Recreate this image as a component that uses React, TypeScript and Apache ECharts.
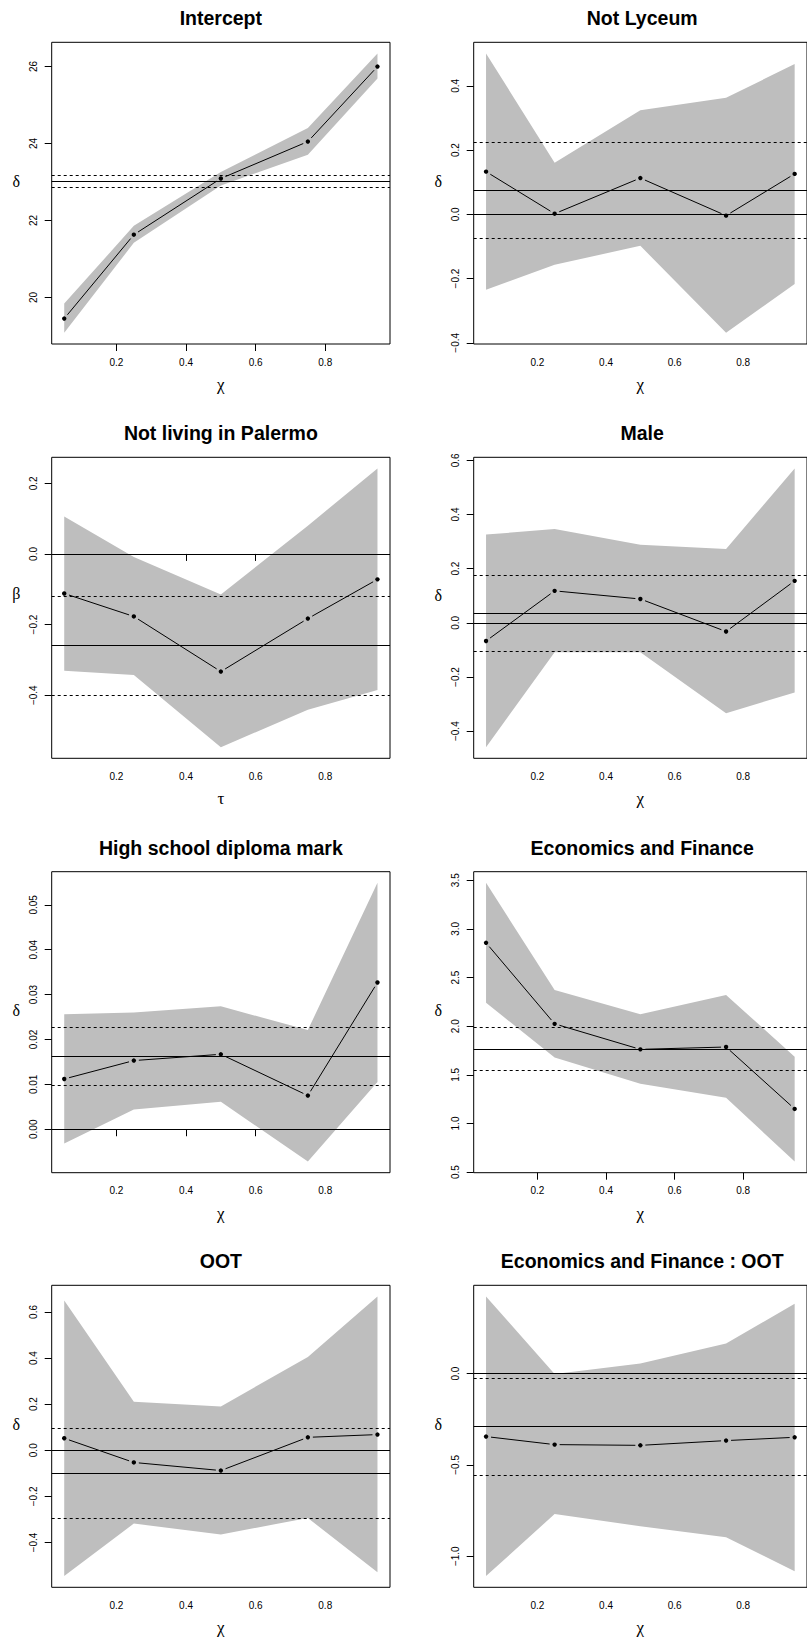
import React, { useEffect, useRef } from "react";
import * as echarts from "echarts";

// ---------- data ----------
const TAU = [0.05, 0.25, 0.5, 0.75, 0.95];
const X_TICKS = [0.2, 0.4, 0.6, 0.8];

const TITLES = [
  "Intercept",
  "Not Lyceum",
  "Not living in Palermo",
  "Male",
  "High school diploma mark",
  "Economics and Finance",
  "OOT",
  "Economics and Finance : OOT",
];
const Y_NAMES = ["δ", "δ", "β", "δ", "δ", "δ", "δ", "δ"];
const X_NAMES = ["χ", "χ", "τ", "χ", "χ", "χ", "χ", "χ"];

const EST_1 = [19.45, 21.63, 23.09, 24.05, 26.0];
const LO_1 = [19.08, 21.42, 22.91, 23.71, 25.69];
const HI_1 = [19.84, 21.86, 23.26, 24.4, 26.34];
const REF_1 = [23.02, 22.87, 23.17];
const YTICKS_1 = [20, 22, 24, 26];

const EST_2 = [0.133, 0.002, 0.113, -0.004, 0.126];
const LO_2 = [-0.235, -0.157, -0.098, -0.369, -0.217];
const HI_2 = [0.501, 0.161, 0.324, 0.363, 0.468];
const REF_2 = [0.075, -0.075, 0.225];
const YTICKS_2 = [-0.4, -0.2, 0, 0.2, 0.4];

const EST_3 = [-0.112, -0.177, -0.333, -0.183, -0.072];
const LO_3 = [-0.331, -0.343, -0.547, -0.441, -0.385];
const HI_3 = [0.106, -0.009, -0.115, 0.08, 0.242];
const REF_3 = [-0.259, -0.401, -0.119];
const YTICKS_3 = [-0.4, -0.2, 0, 0.2];

const EST_4 = [-0.067, 0.118, 0.088, -0.032, 0.155];
const LO_4 = [-0.459, -0.109, -0.109, -0.334, -0.257];
const HI_4 = [0.326, 0.346, 0.288, 0.273, 0.57];
const REF_4 = [0.034, -0.105, 0.176];
const YTICKS_4 = [-0.4, -0.2, 0, 0.2, 0.4, 0.6];

const EST_5 = [0.0112, 0.0153, 0.0167, 0.0075, 0.0327];
const LO_5 = [-0.0032, 0.0044, 0.0061, -0.0072, 0.0105];
const HI_5 = [0.0256, 0.026, 0.0274, 0.0221, 0.0549];
const REF_5 = [0.0163, 0.0097, 0.0228];
const YTICKS_5 = [0, 0.01, 0.02, 0.03, 0.04, 0.05];

const EST_6 = [2.857, 2.024, 1.762, 1.786, 1.15];
const LO_6 = [2.241, 1.677, 1.408, 1.265, 0.609];
const HI_6 = [3.473, 2.371, 2.122, 2.32, 1.687];
const REF_6 = [1.762, 1.548, 1.986];
const YTICKS_6 = [0.5, 1.0, 1.5, 2.0, 2.5, 3.0, 3.5];

const EST_7 = [0.052, -0.053, -0.088, 0.056, 0.068];
const LO_7 = [-0.546, -0.318, -0.365, -0.294, -0.529];
const HI_7 = [0.65, 0.21, 0.19, 0.405, 0.667];
const REF_7 = [-0.101, -0.293, 0.094];
const YTICKS_7 = [-0.4, -0.2, 0, 0.2, 0.4, 0.6];

const EST_8 = [-0.345, -0.389, -0.393, -0.367, -0.349];
const LO_8 = [-1.109, -0.769, -0.836, -0.896, -1.082];
const HI_8 = [0.422, -0.002, 0.055, 0.164, 0.382];
const REF_8 = [-0.291, -0.555, -0.024];
const YTICKS_8 = [-1.0, -0.5, 0];

const ESTS = [EST_1, EST_2, EST_3, EST_4, EST_5, EST_6, EST_7, EST_8];
const LOS = [LO_1, LO_2, LO_3, LO_4, LO_5, LO_6, LO_7, LO_8];
const HIS = [HI_1, HI_2, HI_3, HI_4, HI_5, HI_6, HI_7, HI_8];
const REFS = [REF_1, REF_2, REF_3, REF_4, REF_5, REF_6, REF_7, REF_8];
const YTICKS = [YTICKS_1, YTICKS_2, YTICKS_3, YTICKS_4, YTICKS_5, YTICKS_6, YTICKS_7, YTICKS_8];
const YDEC = [0, 1, 1, 1, 2, 1, 1, 1];

// ---------- layout ----------
const COL_LEFT = [51.7, 473.7];
const COL_WIDTH = [338.3, 337];
const ROW_TOP = [42.3, 457.3, 871.7, 1285.3];
const ROW_HEIGHT = [301.7, 301, 301, 302];

const SANS = "'Liberation Sans', Arial, sans-serif";
const SERIF = "'Liberation Serif', 'DejaVu Serif', serif";

function fmt(v: number, d: number) {
  const s = Math.abs(v) < 1e-12 ? (0).toFixed(d) : v.toFixed(d);
  return s.replace("-", "\u2212");
}

export default function App() {
  const ref = useRef<HTMLDivElement>(null);
  useEffect(() => {
    document.body.style.margin = "0";
    const chart = echarts.init(ref.current!, null, { renderer: "svg" });

    const grids: any[] = [];
    const xAxes: any[] = [];
    const yAxes: any[] = [];
    const series: any[] = [];
    const graphics: any[] = [];

    for (let k = 0; k < 8; k++) {
      const row = Math.floor(k / 2);
      const col = k % 2;
      const left = COL_LEFT[col];
      const width = COL_WIDTH[col];
      const top = ROW_TOP[row];
      const height = ROW_HEIGHT[row];
      const est = ESTS[k];
      const lo = LOS[k];
      const hi = HIS[k];
      const ymin0 = Math.min(...lo);
      const ymax0 = Math.max(...hi);
      const pad = 0.04 * (ymax0 - ymin0);
      const ymin = ymin0 - pad;
      const ymax = ymax0 + pad;
      const xpad = 0.04 * (TAU[TAU.length - 1] - TAU[0]);

      grids.push({
        left,
        top,
        width,
        height,
        show: true,
        borderColor: "#000",
        borderWidth: 1,
        backgroundColor: "transparent",
        containLabel: false,
      });
      xAxes.push({
        type: "value",
        gridIndex: k,
        min: TAU[0] - xpad,
        max: TAU[TAU.length - 1] + xpad,
        name: X_NAMES[k],
        nameLocation: "middle",
        nameGap: 32,
        nameTextStyle: { fontFamily: SERIF, fontSize: 17, color: "#000" },
        axisLine: { show: false },
        splitLine: { show: false },
        axisTick: {
          show: true,
          length: 7,
          inside: false,
          lineStyle: { color: "#000", width: 1 },
          customValues: X_TICKS,
        },
        axisLabel: {
          show: true,
          margin: 13,
          fontFamily: SANS,
          fontSize: 10,
          color: "#000",
          customValues: X_TICKS,
          formatter: (v: number) => fmt(v, 1),
        },
      });
      const yticks = YTICKS[k];
      const dec = YDEC[k];
      yAxes.push({
        type: "value",
        gridIndex: k,
        min: ymin,
        max: ymax,
        axisLine: { show: false },
        splitLine: { show: false },
        axisTick: {
          show: true,
          length: 7,
          inside: false,
          lineStyle: { color: "#000", width: 1 },
          customValues: yticks,
        },
        axisLabel: {
          show: true,
          rotate: 90,
          margin: 13,
          fontFamily: SANS,
          fontSize: 10,
          color: "#000",
          customValues: yticks,
          formatter: (v: number) => fmt(v, dec),
        },
      });

      // confidence band
      series.push({
        type: "custom",
        xAxisIndex: k,
        yAxisIndex: k,
        z: 1,
        silent: true,
        data: TAU.map((t, i) => [t, lo[i], hi[i]]),
        encode: { x: 0, y: [1, 2] },
        renderItem: (params: any, api: any) => {
          if (params.dataIndex !== 0) return null;
          const pts: number[][] = [];
          for (let i = 0; i < TAU.length; i++) pts.push(api.coord([TAU[i], hi[i]]));
          for (let i = TAU.length - 1; i >= 0; i--) pts.push(api.coord([TAU[i], lo[i]]));
          return {
            type: "polygon",
            shape: { points: pts },
            style: { fill: "#BEBEBE", stroke: "none" },
          };
        },
      });

      // reference lines
      const refs = REFS[k];
      const mlData: any[] = [
        { yAxis: refs[0], lineStyle: { type: "solid", color: "#000", width: 1 } },
        { yAxis: refs[1], lineStyle: { type: [3, 3], color: "#000", width: 1 } },
        { yAxis: refs[2], lineStyle: { type: [3, 3], color: "#000", width: 1 } },
      ];
      if (ymin < 0 && ymax > 0) {
        mlData.push({ yAxis: 0, lineStyle: { type: "solid", color: "#000", width: 1 } });
      }
      series.push({
        type: "line",
        xAxisIndex: k,
        yAxisIndex: k,
        z: 2,
        data: [],
        silent: true,
        markLine: {
          silent: true,
          precision: 10,
          symbol: ["none", "none"],
          label: { show: false },
          data: mlData,
        },
      });

      // estimates: points + gapped segments (type "b")
      series.push({
        type: "custom",
        xAxisIndex: k,
        yAxisIndex: k,
        z: 3,
        silent: true,
        data: TAU.map((t, i) => [t, est[i]]),
        encode: { x: 0, y: 1 },
        renderItem: (params: any, api: any) => {
          const i = params.dataIndex;
          const p = api.coord([api.value(0), api.value(1)]);
          const children: any[] = [
            { type: "circle", shape: { cx: p[0], cy: p[1], r: 2.2 }, style: { fill: "#000" } },
          ];
          if (i < TAU.length - 1) {
            const q = api.coord([TAU[i + 1], est[i + 1]]);
            const dx = q[0] - p[0];
            const dy = q[1] - p[1];
            const L = Math.hypot(dx, dy);
            const g = 5;
            if (L > 2 * g) {
              children.push({
                type: "line",
                shape: {
                  x1: p[0] + (dx * g) / L,
                  y1: p[1] + (dy * g) / L,
                  x2: q[0] - (dx * g) / L,
                  y2: q[1] - (dy * g) / L,
                },
                style: { stroke: "#000", lineWidth: 1 },
              });
            }
          }
          return { type: "group", children };
        },
      });

      graphics.push({
        type: "text",
        x: left + width / 2,
        y: top - 24,
        style: {
          text: TITLES[k],
          fill: "#000",
          font: `bold 19.5px ${SANS}`,
          textAlign: "center",
          textVerticalAlign: "middle",
        },
      });
      graphics.push({
        type: "text",
        x: left - 35.5,
        y: top + height / 2 - (Y_NAMES[k] === "β" ? 14 : 12),
        style: {
          text: Y_NAMES[k],
          fill: "#000",
          font: `16px ${SERIF}`,
          textAlign: "center",
          textVerticalAlign: "middle",
        },
      });
    }

    chart.setOption({
      animation: false,
      backgroundColor: "#fff",
      grid: grids,
      xAxis: xAxes,
      yAxis: yAxes,
      series,
      graphic: graphics,
    });
    return () => chart.dispose();
  }, []);
  return (
    <div
      ref={ref}
      style={{ position: "absolute", left: 0, top: 0, width: 807, height: 1639 }}
    />
  );
}
